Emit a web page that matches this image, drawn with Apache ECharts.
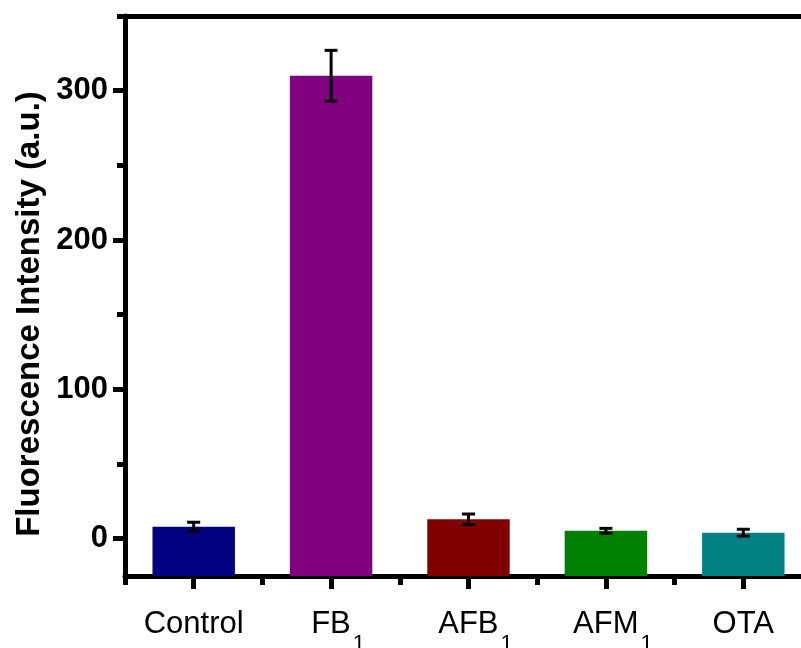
<!DOCTYPE html>
<html>
<head>
<meta charset="utf-8">
<script src="https://cdn.jsdelivr.net/npm/echarts@6/dist/echarts.min.js"></script>
<style>
html,body{margin:0;padding:0;background:#fff;}
#chart{width:801px;height:648px;}
</style>
</head>
<body>
<div id="chart"></div>
<script>
// ---- data ----
var categories = ['Control', 'FB_1', 'AFB_1', 'AFM_1', 'OTA'];
var values = [8, 310, 13, 5.3, 4];
var errors = [3, 17, 3.5, 1.6, 2.3];
var colors = ['#000080', '#800080', '#800000', '#008000', '#008080'];
var yMajorTicks = [0, 100, 200, 300];
var yMinorTicks = [50, 150, 250, 350];
var yMin = -25, yMax = 350;
var yTitle = 'Fluorescence Intensity (a.u.)';

var chart = echarts.init(document.getElementById('chart'), null, {renderer: 'canvas'});

var labelFont = "'Liberation Sans', Arial, sans-serif";

function fmtCat(s) {
  var p = s.split('_');
  if (p.length > 1) return '{mp|' + p[0] + '}{sub|' + p[1] + '}';
  return '{m|' + s + '}';
}

var barData = values.map(function (v, i) { return [i, v, errors[i]]; });

var option = {
  animation: false,
  backgroundColor: '#ffffff',
  grid: {left: 125, right: -11, top: 16, bottom: 72, containLabel: false, outerBoundsMode: 'none'},
  xAxis: [
    {
      type: 'category', data: categories, position: 'bottom',
      axisLine: {show: true, onZero: false, lineStyle: {color: '#000', width: 5}},
      axisTick: {show: true, alignWithLabel: true, length: 13, lineStyle: {color: '#000', width: 5}},
      axisLabel: {
        show: true, margin: 18, interval: 0,
        formatter: fmtCat,
        rich: {
          m: {fontFamily: labelFont, fontSize: 31, color: '#000', lineHeight: 61},
          mp: {fontFamily: labelFont, fontSize: 31, color: '#000', lineHeight: 61, padding: [0, 0, 0, 14]},
          sub: {fontFamily: labelFont, fontSize: 22, color: '#000', lineHeight: 22, verticalAlign: 'bottom', padding: [39, 0, 0, 2]}
        }
      },
      splitLine: {show: false}
    },
    {
      type: 'category', data: categories, position: 'bottom',
      axisLine: {show: false, onZero: false},
      axisTick: {show: true, alignWithLabel: false, length: 9, lineStyle: {color: '#000', width: 5}},
      axisLabel: {show: false},
      splitLine: {show: false}
    },
    {
      type: 'category', data: categories, position: 'top',
      axisLine: {show: true, onZero: false, lineStyle: {color: '#000', width: 5}},
      axisTick: {show: false},
      axisLabel: {show: false},
      splitLine: {show: false}
    }
  ],
  yAxis: [
    {
      type: 'value', min: yMin, max: yMax, position: 'left',
      axisLine: {show: true, onZero: false, lineStyle: {color: '#000', width: 5}},
      axisTick: {show: true, customValues: yMajorTicks, length: 12, lineStyle: {color: '#000', width: 5}},
      axisLabel: {
        show: true, customValues: yMajorTicks, margin: 17,
        fontFamily: labelFont,
        fontWeight: 'bold', fontSize: 31, color: '#000',
        padding: [0, 0, 8, 0]
      },
      splitLine: {show: false}
    },
    {
      type: 'value', min: yMin, max: yMax, position: 'left',
      axisLine: {show: false, onZero: false},
      axisTick: {show: true, customValues: yMinorTicks, length: 8, lineStyle: {color: '#000', width: 5}},
      axisLabel: {show: false},
      splitLine: {show: false}
    }
  ],
  graphic: [
    {
      type: 'text', x: 30, y: 314, rotation: Math.PI / 2,
      style: {
        text: yTitle, fill: '#000',
        font: "bold 33px 'Liberation Sans', Arial, sans-serif",
        textAlign: 'center', textVerticalAlign: 'middle'
      }
    }
  ],
  series: [
    {
      type: 'custom', xAxisIndex: 0, yAxisIndex: 0, z: 1,
      data: barData,
      renderItem: function (params, api) {
        var i = api.value(0), v = api.value(1);
        var top = api.coord([i, v]);
        var base = api.coord([i, yMin]);
        var bw = api.size([1, 0])[0] * 0.6;
        return {
          type: 'rect',
          shape: {x: top[0] - bw / 2, y: top[1], width: bw, height: base[1] - top[1]},
          style: {fill: colors[params.dataIndex]}
        };
      }
    },
    {
      type: 'custom', xAxisIndex: 0, yAxisIndex: 0, z: 3,
      data: barData,
      renderItem: function (params, api) {
        var i = api.value(0), v = api.value(1), e = api.value(2);
        var hi = api.coord([i, v + e]);
        var lo = api.coord([i, v - e]);
        var cw = 6.5;
        var st = {stroke: '#000', lineWidth: 3};
        return {
          type: 'group',
          children: [
            {type: 'line', shape: {x1: hi[0], y1: hi[1], x2: lo[0], y2: lo[1]}, style: st},
            {type: 'line', shape: {x1: hi[0] - cw, y1: hi[1], x2: hi[0] + cw, y2: hi[1]}, style: st},
            {type: 'line', shape: {x1: lo[0] - cw, y1: lo[1], x2: lo[0] + cw, y2: lo[1]}, style: st}
          ]
        };
      }
    }
  ]
};

chart.setOption(option);
</script>
</body>
</html>
